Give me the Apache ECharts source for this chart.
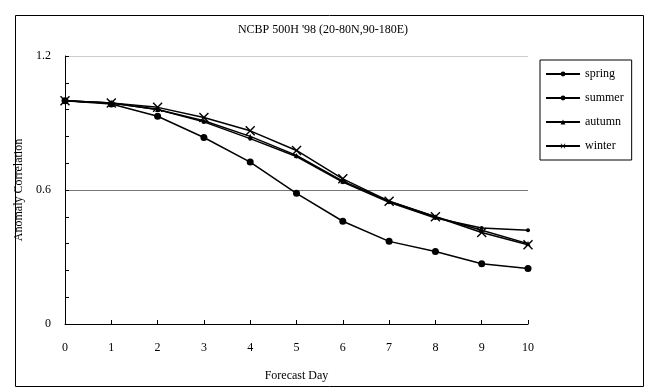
<!DOCTYPE html>
<html><head><meta charset="utf-8">
<script src="https://cdn.jsdelivr.net/npm/echarts@6/dist/echarts.min.js"></script>
<style>html,body{margin:0;padding:0;background:#fff}#c{width:651px;height:387px}</style>
</head><body><div id="c"></div>
<script>
const days = [0,1,2,3,4,5,6,7,8,9,10];
const spring = [1.0, 0.99, 0.96, 0.905, 0.83, 0.75, 0.635, 0.545, 0.475, 0.43, 0.42];
const summer = [1.0, 0.985, 0.93, 0.835, 0.725, 0.585, 0.46, 0.37, 0.325, 0.27, 0.248];
const autumn = [1.0, 0.99, 0.96, 0.91, 0.84, 0.755, 0.64, 0.55, 0.48, 0.42, 0.36];
const winter = [1.0, 0.99, 0.97, 0.925, 0.865, 0.777, 0.65, 0.55, 0.48, 0.41, 0.355];
const yTicks = [0, 0.6, 1.2];

const font = 'Liberation Serif';
const xPath = 'path://M0,1L1,0L5,4L9,0L10,1L6,5L10,9L9,10L5,6L1,10L0,9L4,5Z';
function mk(name, data, symbol, size) {
  return {
    name, type: 'line', data: days.map((d, i) => [d, data[i]]),
    symbol, symbolSize: size, showSymbol: true,
    lineStyle: { color: '#000', width: 1.5 },
    itemStyle: { color: '#000' },
    emphasis: { disabled: true }, animation: false
  };
}
const splitColors = ['rgba(0,0,0,0)','rgba(0,0,0,0)','rgba(0,0,0,0)','rgba(0,0,0,0)','rgba(0,0,0,0)','#777',
  'rgba(0,0,0,0)','rgba(0,0,0,0)','rgba(0,0,0,0)','rgba(0,0,0,0)','#ccc'];
const chart = echarts.init(document.getElementById('c'));
chart.setOption({
  animation: false,
  backgroundColor: '#fff',
  title: { text: "NCBP 500H '98 (20-80N,90-180E)", left: 318, top: 19, textAlign: 'center',
    textStyle: { fontFamily: font, fontSize: 12, fontWeight: 'normal', color: '#000' } },
  grid: { left: 65, right: 123, top: 56, bottom: 57 },
  legend: {
    orient: 'vertical', left: 540, top: 60,
    borderColor: '#000', borderWidth: 1, padding: [8, 8, 8, 5],
    itemWidth: 34, itemHeight: 6, itemGap: 12,
    textStyle: { fontFamily: font, fontSize: 12, color: '#000' },
    data: ['spring', 'summer', 'autumn', 'winter']
  },
  xAxis: {
    type: 'value', min: 0, max: 10, interval: 1,
    name: 'Forecast Day', nameLocation: 'middle', nameGap: 46,
    nameTextStyle: { fontFamily: font, fontSize: 12, color: '#000' },
    axisLine: { lineStyle: { color: '#000', width: 1 } },
    axisTick: { inside: true, length: 4, lineStyle: { color: '#000' } },
    axisLabel: { fontFamily: font, fontSize: 12, color: '#000', margin: 18,
      formatter: v => days.includes(v) ? String(v) : '' },
    splitLine: { show: false }
  },
  yAxis: {
    type: 'value', min: 0, max: 1.2, interval: 0.12,
    name: 'Anomaly Correlation', nameLocation: 'middle', nameGap: 33,
    nameTextStyle: { fontFamily: font, fontSize: 12, color: '#000' },
    axisLine: { show: true, lineStyle: { color: '#000', width: 1 } },
    axisTick: { show: true, inside: true, length: 4, lineStyle: { color: '#000' } },
    axisLabel: { fontFamily: font, fontSize: 12, color: '#000', margin: 14, showMaxLabel: true,
      formatter: v => { const t = yTicks.find(x => Math.abs(x - v) < 1e-6); return t === undefined ? '' : String(t); } },
    splitLine: { show: true, lineStyle: { color: splitColors, width: 1 } }
  },
  graphic: [{
    type: 'rect', left: 13, top: 13, silent: true,
    shape: { width: 628, height: 371 },
    style: { fill: 'none', stroke: '#000', lineWidth: 1 }
  }],
  series: [
    mk('spring', spring, 'circle', 4),
    mk('summer', summer, 'circle', 7),
    mk('autumn', autumn, 'triangle', 5),
    mk('winter', winter, xPath, 10)
  ]
});
</script></body></html>
